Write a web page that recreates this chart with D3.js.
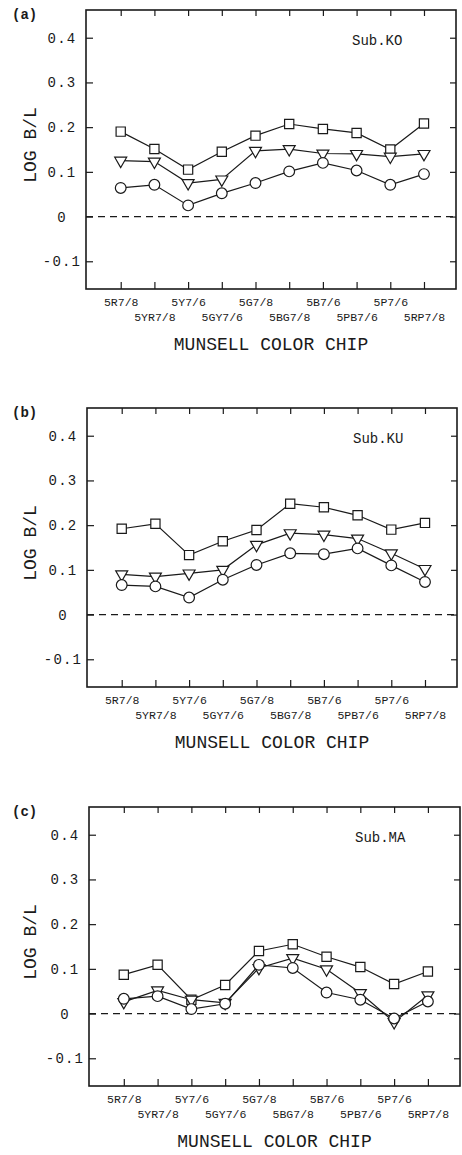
<!DOCTYPE html>
<html>
<head>
<meta charset="utf-8">
<script src="https://cdn.jsdelivr.net/npm/d3@7"></script>
<style>
  body { margin: 0; background: #fff; }
  svg { display: block; }
  text { font-family: "Liberation Mono", "DejaVu Sans Mono", monospace; fill: #1a1a1a; }
</style>
</head>
<body>
<div id="chart"></div>
<script>
// munsell chips along x
var categories = ["5R7/8", "5YR7/8", "5Y7/6", "5GY7/6", "5G7/8", "5BG7/8", "5B7/6", "5PB7/6", "5P7/6", "5RP7/8"];
var yTicks = [-0.1, 0, 0.1, 0.2, 0.3, 0.4];
var yTickLabels = ["-0.1", "0", "0.1", "0.2", "0.3", "0.4"];
var panelLetters = ["(a)", "(b)", "(c)"];
var subjects = ["Sub.KO", "Sub.KU", "Sub.MA"];

// Sub.KO
var koSquare   = [0.190, 0.151, 0.105, 0.145, 0.181, 0.207, 0.196, 0.187, 0.150, 0.208];
var koTriangle = [0.125, 0.123, 0.075, 0.083, 0.147, 0.151, 0.141, 0.140, 0.134, 0.140];
var koCircle   = [0.064, 0.071, 0.025, 0.052, 0.075, 0.101, 0.120, 0.103, 0.071, 0.095];
// Sub.KU
var kuSquare   = [0.192, 0.203, 0.133, 0.164, 0.189, 0.248, 0.240, 0.222, 0.190, 0.205];
var kuTriangle = [0.090, 0.085, 0.092, 0.100, 0.156, 0.182, 0.179, 0.170, 0.137, 0.102];
var kuCircle   = [0.066, 0.063, 0.038, 0.078, 0.111, 0.137, 0.135, 0.148, 0.110, 0.073];
// Sub.MA
var maSquare   = [0.087, 0.109, 0.031, 0.064, 0.140, 0.155, 0.127, 0.104, 0.066, 0.094];
var maTriangle = [0.026, 0.052, 0.031, 0.024, 0.102, 0.124, 0.099, 0.046, -0.019, 0.041];
var maCircle   = [0.033, 0.039, 0.010, 0.022, 0.109, 0.102, 0.047, 0.031, -0.011, 0.027];

var panels = [
  {top: 10,  left: 86, right: 456, series: [koSquare, koTriangle, koCircle]},
  {top: 408, left: 87, right: 457, series: [kuSquare, kuTriangle, kuCircle]},
  {top: 807, left: 89, right: 460, series: [maSquare, maTriangle, maCircle]}
];
var plotH = 279;
var ink = "#1a1a1a";

var svg = d3.select("#chart")
  .append("svg")
    .attr("width", 462)
    .attr("height", 1155);

function drawPanel(p, k) {
  var bottom = p.top + plotH;
  var x = d3.scaleLinear().domain([-1.03, 9.95]).range([p.left, p.right]);
  var y = d3.scaleLinear().domain([-0.162, 0.462]).range([bottom, p.top]);
  var g = svg.append("g");

  // left axis, ticks pointing inward
  var ax = g.append("g")
    .attr("transform", "translate(" + p.left + ",0)")
    .call(d3.axisLeft(y).tickValues(yTicks).tickSize(-7)
      .tickFormat(function(d, i) { return yTickLabels[i]; }));
  ax.selectAll("text")
    .attr("x", -24).attr("text-anchor", "middle")
    .style("font-size", "14px").style("letter-spacing", "1.2px");

  g.append("g")
    .attr("transform", "translate(" + p.right + ",0)")
    .call(d3.axisRight(y).tickValues(yTicks).tickSize(-6).tickFormat(""));

  g.append("g")
    .attr("transform", "translate(0," + p.top + ")")
    .call(d3.axisTop(x).tickValues(d3.range(categories.length)).tickSize(-6).tickFormat(""));

  var bx = g.append("g")
    .attr("transform", "translate(0," + bottom + ")")
    .call(d3.axisBottom(x).tickValues(d3.range(categories.length)).tickSize(-7)
      .tickFormat(function(d) { return categories[d]; }));
  bx.selectAll("text")
    .attr("y", function(d) { return d % 2 ? 28 : 13; })
    .attr("dy", "0.35em")
    .style("font-size", "11.5px");

  g.selectAll(".domain").remove();
  g.selectAll(".tick line").attr("stroke", ink).attr("stroke-width", 1.2);

  // frame
  g.append("rect")
    .attr("x", p.left).attr("y", p.top)
    .attr("width", p.right - p.left).attr("height", plotH)
    .attr("fill", "none").attr("stroke", ink).attr("stroke-width", 1.6);

  // zero line
  g.append("line")
    .attr("x1", p.left).attr("x2", p.right)
    .attr("y1", y(0)).attr("y2", y(0))
    .attr("stroke", ink).attr("stroke-width", 1.2)
    .attr("stroke-dasharray", "7,5");

  var line = d3.line()
    .x(function(d, i) { return x(i); })
    .y(function(d) { return y(d); });

  p.series.forEach(function(s) {
    g.append("path")
      .datum(s)
      .attr("fill", "none")
      .attr("stroke", ink)
      .attr("stroke-width", 1.2)
      .attr("d", line);
  });

  // markers: square, down triangle, circle
  var shapes = [
    d3.symbol().type(d3.symbolSquare).size(85),
    d3.symbol().type(d3.symbolTriangle).size(62),
    d3.symbol().type(d3.symbolCircle).size(90)
  ];
  p.series.forEach(function(s, j) {
    g.append("g")
      .selectAll("path")
      .data(s)
      .enter()
      .append("path")
        .attr("d", shapes[j])
        .attr("transform", function(d, i) {
          return "translate(" + x(i) + "," + y(d) + ")" + (j === 1 ? " rotate(180)" : "");
        })
        .attr("fill", "#fff")
        .attr("stroke", ink)
        .attr("stroke-width", 1.2);
  });

  g.append("text")
    .attr("x", 12).attr("y", p.top + 4)
    .attr("dy", "0.35em")
    .style("font-size", "14px").style("font-weight", "bold")
    .text(panelLetters[k]);

  g.append("text")
    .attr("x", p.left + 266).attr("y", y(0.4) + 2)
    .attr("dy", "0.35em")
    .style("font-size", "14px")
    .text(subjects[k]);

  g.append("text")
    .attr("transform", "translate(30," + (p.top + 135) + ") rotate(-90)")
    .attr("text-anchor", "middle")
    .attr("dy", "0.35em")
    .style("font-size", "18px")
    .text("LOG B/L");

  g.append("text")
    .attr("x", (p.left + p.right) / 2).attr("y", bottom + 55)
    .attr("text-anchor", "middle")
    .attr("dy", "0.35em")
    .style("font-size", "18px")
    .text("MUNSELL COLOR CHIP");
}

panels.forEach(drawPanel);
</script>
</body>
</html>
